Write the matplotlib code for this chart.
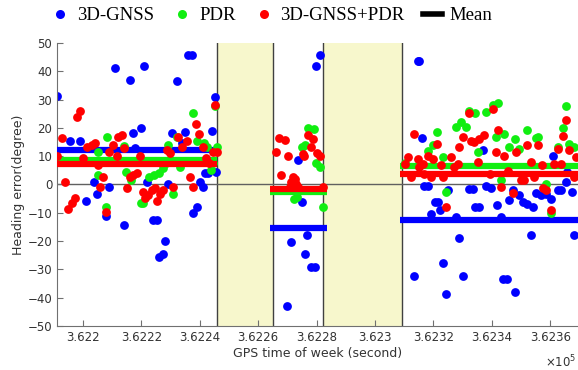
import matplotlib
matplotlib.use("Agg")
import matplotlib.pyplot as plt
from matplotlib.lines import Line2D

# heading error samples (GPS time of week [s], error [deg])
gnss_t = [362191.1, 362195.6, 362199.0, 362201.0, 362203.8, 362204.8, 362207.9, 362208.9,
          362210.9, 362214.0, 362216.1, 362217.1, 362217.8, 362219.8, 362220.9, 362221.9,
          362223.9, 362225.3, 362226.0, 362227.4, 362228.0, 362229.1, 362230.4, 362232.1,
          362233.8, 362234.9, 362235.9, 362237.3, 362237.6, 362239.0, 362240.0, 362241.0,
          362241.7, 362242.7, 362244.1, 362245.1, 362245.5,
          362270.0, 362271.1, 362273.6, 362275.0, 362275.9, 362276.8, 362278.2, 362279.3,
          362279.9, 362281.0,
          362313.2, 362314.6, 362315.2, 362316.0, 362316.9, 362318.1, 362319.2, 362320.4,
          362321.5, 362322.1, 362323.2, 362324.4, 362324.9, 362327.8, 362328.9, 362330.0,
          362332.3, 362333.4, 362334.4, 362335.5, 362336.9, 362338.0, 362339.7, 362341.6,
          362343.1, 362343.7, 362345.1, 362346.0, 362347.4, 362348.0, 362349.4, 362350.5,
          362352.2, 362353.4, 362354.2, 362355.1, 362356.8, 362358.5, 362360.2, 362361.0,
          362362.5, 362363.7, 362365.4, 362365.9, 362367.4, 362368.2]
gnss_e = [31.1, 15.2, 15.2, -5.7, 0.7, -3.2, -11, -1,
          41.3, -14.5, 37, 18, 12.7, 20.1, 41.7, 1,
          -12.7, -12.7, -25.8, -24.7, -20, 0, 18, 36.7,
          14.5, 18.7, 45.9, 45.9, -10, -8, 0.7, -1,
          4.2, 4.2, 19, 31, 4.5,
          -43, -20.4, 8.5, -6.2, -24.5, -18, -29.2, -29.2,
          41.7, 45.6,
          -32.5, 43.5, 43.5, 16.5, -0.4, -0.4, -10.6, -6.2,
          -6.2, -9.2, -27.8, -38.6, -1.9, -11.5, -18.8, -32.5,
          -1.5, -1.5, -7.8, -7.8, 12.3, -0.7, -1.2, -7.4,
          -11.5, -33.3, -33.3, -5.4, -1.9, -38, -3.9, -6.2,
          -6.8, -18, -7.8, -3.1, -3.9, -3.3, -5, 9.9,
          -1.9, -1.9, 0.8, 4.4, -2.7, -17.7]

pdr_t = [362205.0, 362205.1, 362207.8, 362208.2, 362214.0, 362214.7, 362216.4, 362219.8,
         362220.5, 362222.6, 362224.3, 362226.0, 362227.4, 362228.4, 362229.1, 362230.8,
         362232.1, 362233.2, 362234.9, 362237.6, 362239.0, 362241.4, 362242.4, 362243.8,
         362244.4, 362245.1, 362245.8,
         362272.2, 362273.4, 362275.1, 362276.1, 362277.0, 362279.0, 362279.9, 362281.0,
         362282.2,
         362310.1, 362318.1, 362319.8, 362321.3, 362323.2, 362324.4, 362327.8, 362329.5,
         362331.2, 362332.3, 362334.4, 362335.2, 362338.0, 362340.3, 362341.4, 362342.0,
         362343.1, 362344.3, 362346.0, 362348.0, 362349.4, 362352.2, 362355.1, 362355.7,
         362358.7, 362360.2, 362362.5, 362364.2, 362365.4, 362366.5, 362368.0]
pdr_e = [11.4, 3.2, -8, 16.6, 13.5, 4.4, 1.4, -6.7,
         -6.5, 2.5, 3.5, 3.9, 5.7, 7.4, 13.8, -3.2,
         16.6, 6, 7.8, 25.4, 15.5, 14.5, 13.1, 5,
         7.4, 27.6, 13.1,
         -5, -4.5, 13.2, 14.1, 20, 19.7, 7.5, 6.1,
         -8,
         7.5, 11.8, 13.8, 18.5, 9.6, -2.7, 20.2, 22,
         20.2, 26.1, 25.2, 11.4, 25.5, 27.9, 16.7, 28.7,
         1.4, 17.9, 13.2, 16.1, 12.6, 19.3, 16.5, 16.7,
         0, -10.1, 13.2, 20, 27.6, 14.4, 13.4]

fused_t = [362191.1, 362192.8, 362193.8, 362194.9, 362196.2, 362197.3, 362197.9, 362199.0,
           362200.0, 362201.4, 362203.1, 362204.1, 362205.1, 362205.8, 362206.8, 362207.9,
           362208.9, 362210.3, 362211.6, 362212.0, 362213.3, 362214.0, 362215.0, 362216.1,
           362217.1, 362218.5, 362219.5, 362220.5, 362221.2, 362222.2, 362223.6, 362224.6,
           362225.3, 362226.3, 362227.4, 362228.7, 362229.7, 362230.8, 362232.5, 362233.8,
           362235.6, 362236.6, 362237.6, 362238.6, 362239.7, 362241.0, 362242.1, 362243.1,
           362244.4, 362245.1, 362245.8,
           362266.0, 362267.0, 362267.9, 362269.1, 362270.2, 362270.8, 362271.3, 362271.9,
           362272.7, 362273.0, 362273.6, 362275.3, 362275.7, 362277.0, 362278.2, 362278.7,
           362280.2, 362281.0, 362282.2,
           362310.1, 362311.2, 362312.4, 362313.2, 362314.6, 362315.2, 362316.3, 362316.9,
           362318.1, 362319.2, 362319.8, 362321.3, 362322.6, 362323.2, 362324.4, 362326.1,
           362327.2, 362328.3, 362328.9, 362330.0, 362332.1, 362332.9, 362334.0, 362335.2,
           362335.7, 362337.4, 362339.2, 362340.3, 362341.4, 362342.0, 362343.1, 362344.3,
           362345.4, 362347.1, 362348.3, 362350.0, 362351.1, 362352.2, 362353.4, 362354.5,
           362355.7, 362357.2, 362357.6, 362358.5, 362360.2, 362361.4, 362362.5, 362363.7,
           362364.2, 362365.4, 362366.5, 362368.2, 362368.8]
fused_e = [10.2, 16.3, 0.7, -8.5, -6.7, -4.9, 24, 25.8,
           9.2, 13.1, 13.8, 14.5, 6.7, -1, 2.5, -9.9,
           11.3, 13.8, 10.2, 16.6, 17.3, 12.7, -1.4, 2.5,
           3.2, 4.2, 9.9, -2.8, -4.9, -3.9, -2.1, -1.4,
           -5.7, -3.2, -2.1, 12, 11, -1, 16.6, 13.1,
           15.5, 2.8, -1, 21.2, 17.7, 13.1, 9.2, 7.4,
           11.3, 27.9, 11.3,
           11.4, 16.5, 3.5, 15.8, 9.9, -0.9, 0.8, 2.6,
           2, 0.2, -1, 10.8, 10.2, 17.6, 13.4, 16.1,
           11.1, 10.2, -1,
           7.3, 9.6, 2.6, 17.9, 9.1, 6.1, 7.3, 3.8,
           10.2, 2.6, 9.1, 14.4, 6.7, 2.6, -7.8, 9.6,
           6.1, 7.3, 13.2, 16.7, 25.2, 15.5, 14.9, 7.9,
           16.1, 17.3, 3.8, 26.7, 11.4, 19.3, -0.9, 10.2,
           4.9, -3.1, 11.4, 1.4, 1.4, 13.8, 7.9, 2.6,
           13.8, 6.7, -1.2, -2.1, -9, 7.3, 12.6, 7.3,
           17, 22.6, 12, 2.6, 9.6]

# mean per segment: (start, end) and value for each method
seg_start = [362191.1, 362263.9, 362308.4]
seg_end = [362245.8, 362283.4, 362369.5]
gnss_mean = [12.2, -15.4, -12.4]
pdr_mean = [8.7, -2.8, 6.4]
fused_mean = [7.3, -1.6, 3.8]

# GNSS-only (no PDR) periods shaded
shade_start = [362245.8, 362282.1]
shade_end = [362265.0, 362309.1]

xticks = [362200, 362220, 362240, 362260, 362280, 362300, 362320, 362340, 362360]
xticklabels = ["3.622", "3.6222", "3.6224", "3.6226", "3.6228", "3.623", "3.6232", "3.6234", "3.6236"]

BLUE = "#0000ff"
GREEN = "#11ee11"
RED = "#ff0000"
GREY = "#404040"

fig = plt.figure(figsize=(5.78, 3.70), dpi=100)
ax = fig.add_axes([0.0986, 0.119, 0.9014, 0.765])

for s, e in zip(shade_start, shade_end):
    ax.axvspan(s, e, color="#f7f7cc", zorder=0, lw=0)
    ax.axvline(s, color=GREY, lw=1, zorder=1)
    ax.axvline(e, color=GREY, lw=1, zorder=1)
ax.axhline(0, color="#606060", lw=1, zorder=1)

ms = 40
ax.scatter(gnss_t, gnss_e, s=ms, color=BLUE, lw=0, zorder=2)
ax.hlines(gnss_mean, seg_start, seg_end, color=BLUE, lw=4.5, zorder=3)
ax.scatter(pdr_t, pdr_e, s=ms, color=GREEN, lw=0, zorder=4)
ax.hlines(pdr_mean, seg_start, seg_end, color=GREEN, lw=4.5, zorder=5)
ax.scatter(fused_t, fused_e, s=ms, color=RED, lw=0, zorder=6)
ax.hlines(fused_mean, seg_start, seg_end, color=RED, lw=4.5, zorder=7)

ax.set_xlim(362191.1, 362369.5)
ax.set_ylim(-50, 50)
ax.set_yticks(range(-50, 51, 10))
ax.set_xticks(xticks)
ax.set_xticklabels(xticklabels)

for sp in ["top", "right"]:
    ax.spines[sp].set_visible(False)
for sp in ["left", "bottom"]:
    ax.spines[sp].set_color("#707070")
ax.tick_params(direction="in", length=4, colors="#707070", labelcolor="#333333", labelsize=8.5)

ax.set_xlabel("GPS time of week (second)", fontsize=9, color="#333333", labelpad=2)
ax.set_ylabel("Heading error(degree)", fontsize=9, color="#333333", labelpad=2)
fig.text(0.997, 0.008, r"$\times10^5$", fontsize=8.5, color="#333333", ha="right")

handles = [
    Line2D([], [], ls="none", marker="o", markersize=6.5, color=BLUE, mew=0),
    Line2D([], [], ls="none", marker="o", markersize=6.5, color=GREEN, mew=0),
    Line2D([], [], ls="none", marker="o", markersize=6.5, color=RED, mew=0),
    Line2D([], [], color="black", lw=4),
]
fig.legend(handles, ["3D-GNSS", "PDR", "3D-GNSS+PDR", "Mean"], loc="center",
           bbox_to_anchor=(0.47, 0.958), ncol=4, frameon=False,
           prop={"family": "Liberation Serif", "size": 13.5},
           handlelength=1.0, handletextpad=0.4, columnspacing=1.0, borderaxespad=0)

fig.savefig("out.png", dpi=100)
